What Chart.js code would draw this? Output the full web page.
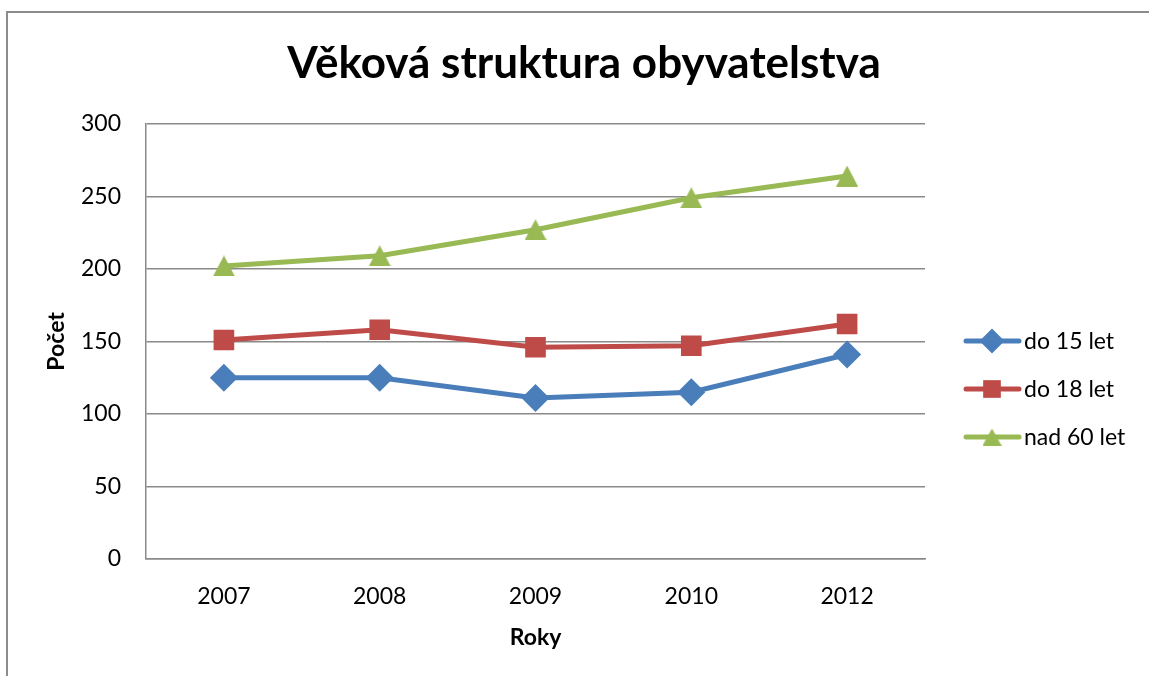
<!DOCTYPE html>
<html>
<head>
<meta charset="utf-8">
<script src="https://cdn.jsdelivr.net/npm/chart.js@4"></script>
<style>
  html, body { margin: 0; padding: 0; background: #fff; overflow: hidden; }
  #wrap { position: relative; width: 1149px; height: 676px; }
  #frame { position: absolute; left: 6px; top: 11px; width: 1400px; height: 900px; border: 2px solid #8c8c8c; }
  #chart { position: absolute; left: 0; top: 0; }
</style>
</head>
<body>
<div id="wrap">
  <div id="frame"></div>
  <canvas id="chart" width="1149" height="676"></canvas>
</div>
<script>
const years = ["2007", "2008", "2009", "2010", "2012"];
const seriesNames = ["do 15 let", "do 18 let", "nad 60 let"];
const under15 = [125, 125, 111, 115, 141];
const under18 = [151, 158, 146, 147, 162];
const over60 = [202, 209, 227, 249, 264];
const yTicks = [0, 50, 100, 150, 200, 250, 300];

const FONT = "Lato, 'Open Sans', sans-serif";
const GRID = "#8a8a8a";

// Excel-style triangle: centred on its bounding box, not its centroid
function triangleMarker(color, w, h) {
  const c = document.createElement("canvas");
  c.width = w;
  c.height = h;
  const g = c.getContext("2d");
  g.fillStyle = color;
  g.beginPath();
  g.moveTo(w / 2, 0);
  g.lineTo(w, h);
  g.lineTo(0, h);
  g.closePath();
  g.fill();
  return c;
}

// legend drawn by hand so each entry shows line + marker like the original
const sideLegend = {
  id: "sideLegend",
  afterDraw(chart) {
    const ctx = chart.ctx;
    const rows = [341, 389, 437];
    chart.data.datasets.forEach((ds, i) => {
      const y = rows[i];
      ctx.save();
      ctx.strokeStyle = ds.borderColor;
      ctx.lineWidth = 5;
      ctx.lineCap = "round";
      ctx.beginPath();
      ctx.moveTo(966, y);
      ctx.lineTo(1019, y);
      ctx.stroke();
      ctx.fillStyle = ds.backgroundColor;
      ctx.strokeStyle = ds.backgroundColor;
      const style = ds.legendStyle || ds.pointStyle;
      Chart.helpers.drawPoint(ctx, {
        pointStyle: style,
        radius: 12.5,
        borderWidth: 0,
        rotation: 0,
      }, 992, y);
      ctx.fillStyle = "#000";
      ctx.font = `23px ${FONT}`;
      ctx.textAlign = "left";
      ctx.textBaseline = "middle";
      ctx.fillText(ds.label, 1024, y + 1);
      ctx.restore();
    });
  },
};

function line(label, data, color, style, radius) {
  return {
    label,
    data,
    borderColor: color,
    backgroundColor: color,
    borderWidth: 5,
    pointStyle: style,
    pointRadius: radius,
    pointBorderWidth: 0,
    pointBackgroundColor: color,
    tension: 0,
    fill: false,
  };
}

const green = line(seriesNames[2], over60, "#98b954", triangleMarker("#98b954", 22, 21), 11);
green.legendStyle = triangleMarker("#98b954", 19, 17);

new Chart(document.getElementById("chart"), {
  type: "line",
  data: {
    labels: years,
    datasets: [
      line(seriesNames[0], under15, "#4a7ebb", "rectRot", 14),
      line(seriesNames[1], under18, "#be4b48", "rect", 14.6),
      green,
    ],
  },
  options: {
    responsive: false,
    animation: false,
    layout: { padding: { left: 19, right: 0, top: 0, bottom: 0 } },
    plugins: {
      legend: { display: false },
      tooltip: { enabled: false },
      title: {
        display: true,
        text: "Věková struktura obyvatelstva",
        color: "#000",
        font: { family: FONT, size: 44, weight: "bold", lineHeight: 1.2 },
        padding: { top: 37, bottom: 34 },
      },
    },
    scales: {
      x: {
        offset: true,
        grid: { display: false, drawTicks: false },
        border: { display: true, color: GRID, width: 1.5 },
        ticks: { color: "#000", font: { family: FONT, size: 23 }, padding: 24 },
        title: {
          display: true,
          text: "Roky",
          color: "#000",
          font: { family: FONT, size: 23, weight: "bold", lineHeight: 1.2 },
          padding: { top: 0, bottom: 25 },
        },
        afterFit(scale) { scale.height = 117; },
      },
      y: {
        min: 0,
        max: 300,
        afterBuildTicks(scale) { scale.ticks = yTicks.map((v) => ({ value: v })); },
        grid: { color: GRID, lineWidth: 1.5, drawTicks: false },
        border: { display: true, color: GRID, width: 1.5 },
        ticks: { color: "#000", font: { family: FONT, size: 23 }, padding: 25 },
        title: {
          display: true,
          text: "Počet",
          color: "#000",
          font: { family: FONT, size: 23, weight: "bold", lineHeight: 1.2 },
          padding: { top: 24, bottom: 0 },
        },
        afterFit(scale) { scale.width = 127; },
      },
      side: {
        position: "right",
        display: true,
        grid: { display: false },
        border: { display: false },
        ticks: { display: false },
        afterFit(scale) { scale.width = 224; },
      },
    },
  },
  plugins: [sideLegend],
});
</script>
</body>
</html>
